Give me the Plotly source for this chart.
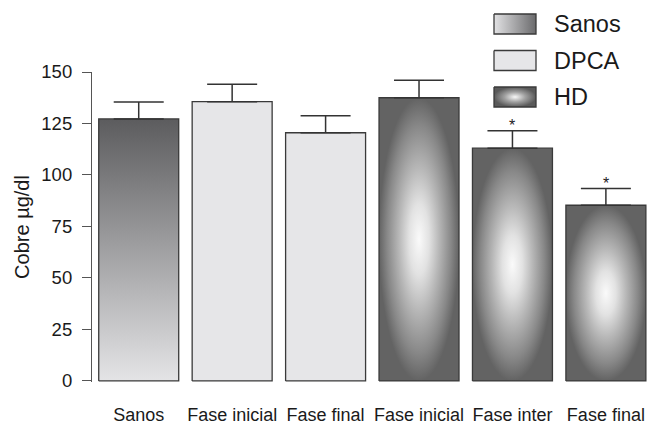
import plotly.graph_objects as go

categories = ["Sanos", "Fase inicial", "Fase final", "Fase inicial", "Fase inter", "Fase final"]
groups = ["Sanos", "DPCA", "DPCA", "HD", "HD", "HD"]
values = [127.2, 135.6, 120.5, 137.5, 113.0, 85.3]
errors = [8.2, 8.4, 8.3, 8.5, 8.5, 8.2]
significant = [False, False, False, False, True, True]
y_ticks = [0, 25, 50, 75, 100, 125, 150]
legend_labels = ["Sanos", "DPCA", "HD"]

FONT = "Liberation Sans, Arial, Helvetica, sans-serif"
EDGE = "#3a3a3a"
HALF = 0.428

W, H = 647, 424
LM, BM = 92, 42

styles = {
    "Sanos": dict(fillgradient=dict(type="vertical",
                                    colorscale=[[0, "#e4e4e6"], [1, "#5c5c5e"]])),
    "DPCA": dict(fillcolor="#e6e6e8"),
    "HD": dict(fillgradient=dict(type="radial",
                                 colorscale=[[0, "#fafafa"], [0.25, "#e2e2e2"],
                                             [0.5, "#b8b8b8"], [0.8, "#888888"],
                                             [1, "#636363"]])),
}

fig = go.Figure()

for i, (v, g) in enumerate(zip(values, groups)):
    xs = [i - HALF, i + HALF, i + HALF, i - HALF, i - HALF]
    ys = [0, 0, v, v, 0]
    fig.add_trace(go.Scatter(
        x=xs, y=ys, mode="lines", fill="toself",
        line=dict(color=EDGE, width=1.3),
        showlegend=False, hoverinfo="skip", **styles[g]))

# error bars (upper only)
fig.add_trace(go.Scatter(
    x=list(range(len(values))), y=values, mode="markers",
    marker=dict(size=1, color="rgba(0,0,0,0)"),
    error_y=dict(type="data", array=errors, arrayminus=[0] * len(values),
                 symmetric=False, width=25, thickness=1.5, color="#333333"),
    showlegend=False, hoverinfo="skip"))

# significance asterisks
for i, s in enumerate(significant):
    if s:
        fig.add_annotation(x=i, y=values[i] + errors[i], xref="x", yref="y",
                           text="*", showarrow=False, yanchor="middle", yshift=5,
                           font=dict(family=FONT, size=16, color="#222222"))

# custom legend on a separate full-height axis pair (pixel-like coordinates)
leg_styles = {
    "Sanos": dict(fillgradient=dict(type="horizontal",
                                    colorscale=[[0, "#e2e2e4"], [1, "#6a6a6c"]])),
    "DPCA": dict(fillcolor="#e6e6e8"),
    "HD": dict(fillgradient=dict(type="radial",
                                 colorscale=[[0, "#f8f8f8"], [0.5, "#a0a0a0"], [1, "#5a5a5a"]])),
}
for k, lab in enumerate(legend_labels):
    yc = 24 + k * 36.5
    x0, x1 = 494 - LM, 536 - LM
    y0, y1 = yc - 10, yc + 10
    fig.add_trace(go.Scatter(
        x=[x0, x1, x1, x0, x0], y=[y0, y0, y1, y1, y0],
        xaxis="x2", yaxis="y2", mode="lines", fill="toself",
        line=dict(color=EDGE, width=1.3), showlegend=False, hoverinfo="skip",
        **leg_styles[lab]))
    fig.add_annotation(x=552 - LM, y=yc, xref="x2", yref="y2", text=lab,
                       showarrow=False, xanchor="left", yanchor="middle",
                       font=dict(family=FONT, size=23.5, color="#1a1a1a"))

plot_h = H - BM
fig.update_layout(
    width=W, height=H,
    margin=dict(l=LM, r=0, t=0, b=BM, autoexpand=False),
    paper_bgcolor="white", plot_bgcolor="rgba(0,0,0,0)",
    font=dict(family=FONT, color="#1a1a1a"),
    showlegend=False,
    xaxis=dict(range=[-0.5, 5.44], tickmode="array",
               tickvals=list(range(len(categories))), ticktext=categories,
               showline=False, showgrid=False, zeroline=False, ticks="",
               automargin=False, anchor="y",
               tickfont=dict(size=18, color="#1a1a1a"), ticklabelstandoff=20),
    yaxis=dict(range=[-0.5, 150], domain=[0, (plot_h - 72) / plot_h],
               tickmode="array", tickvals=y_ticks, automargin=False, anchor="x",
               showline=True, linecolor="#555555", linewidth=1.2,
               ticks="outside", ticklen=9, tickwidth=1.2, tickcolor="#555555",
               showgrid=False, zeroline=False,
               tickfont=dict(size=18.5, color="#1a1a1a"), ticklabelstandoff=6,
               title=dict(text="Cobre µg/dl", font=dict(size=20, color="#1a1a1a"),
                          standoff=6)),
    xaxis2=dict(domain=[0, 1], range=[0, W - LM], visible=False,
                anchor="y2", fixedrange=True),
    yaxis2=dict(domain=[0, 1], range=[plot_h, 0], visible=False,
                anchor="x2", fixedrange=True),
)

# remove the default page margin so the 647x424 figure fills the window exactly
fig.write_html(
    "out.html",
    config={"displayModeBar": False},
    post_script="document.body.style.margin='0';"
                "document.body.style.overflow='hidden';"
                "document.documentElement.style.overflow='hidden';",
)
